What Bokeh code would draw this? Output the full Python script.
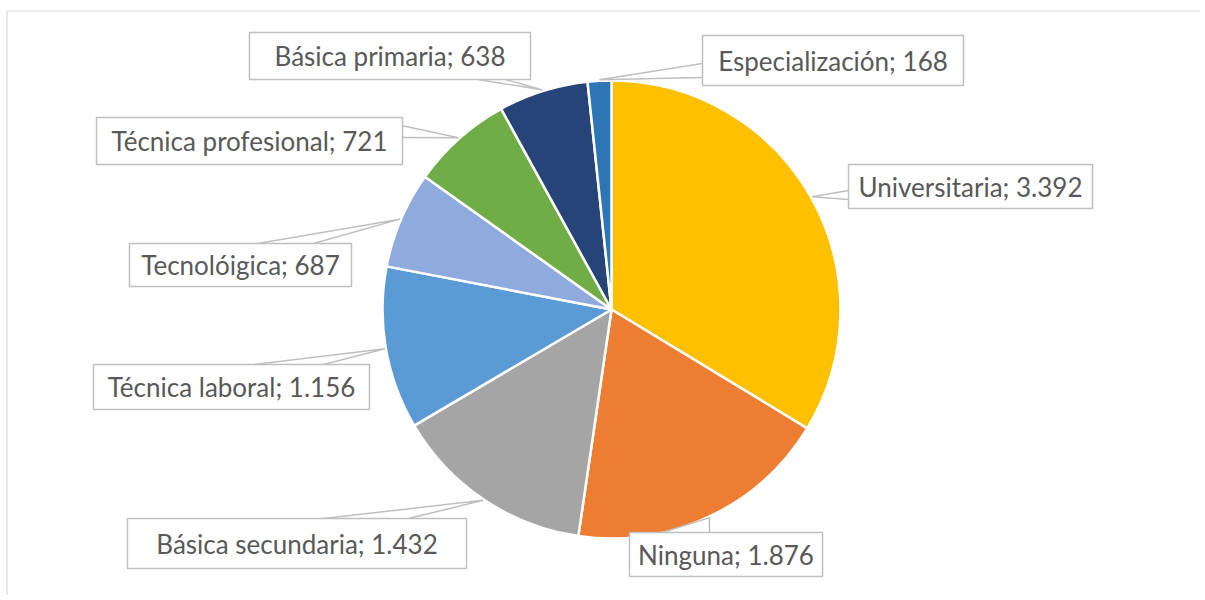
import math
from bokeh.plotting import figure
from bokeh.models import Range1d, ColumnDataSource
from bokeh.core.properties import value
from bokeh.embed import file_html
from bokeh.resources import INLINE

# ---- data ----
categories = ["Universitaria", "Ninguna", "Básica secundaria", "Técnica laboral",
              "Tecnolóigica", "Técnica profesional", "Básica primaria", "Especialización"]
values = [3392, 1876, 1432, 1156, 687, 721, 638, 168]
colors = ["#FFC000", "#ED7D31", "#A5A5A5", "#5B9BD5",
          "#8FAADC", "#70AD47", "#264478", "#2E75B6"]

# ---- layout (screen pixel positions) ----
W, H = 1200, 595
PIE_CX, PIE_CY, PIE_R = 611, 309, 229
boxes = [  # x0, y0, x1, y1 in page pixels
    (848, 164, 1092, 208),
    (629, 532, 822, 576),
    (127, 518, 466, 568),
    (93, 364, 369, 409),
    (129, 243, 351, 286),
    (96, 117, 402, 164),
    (249, 32, 530, 79),
    (702, 35, 963, 85),
]
pointer_bases = [
    ((848, 190), (848, 199)),
    ((662, 532), (709, 532)),
    ((323, 518), (408, 518)),
    ((253, 364), (323, 364)),
    ((257, 243), (313, 243)),
    ((401, 125), (401, 137)),
    ((478, 79), (505, 79)),
    ((702, 63), (702, 77)),
]

OFF = 0  # page offset of the figure


def sx(x):
    return x - OFF


def sy(y):
    return (H + OFF) - y


p = figure(width=W, height=H, output_backend="svg", toolbar_location=None,
           x_range=Range1d(0, W), y_range=Range1d(0, H), min_border=0)
p.axis.visible = False
p.grid.visible = False
p.outline_line_color = None
p.background_fill_color = "white"
p.border_fill_color = "white"

# chart frame
p.segment(x0=[sx(6.5), sx(6.5)], y0=[sy(10.5), sy(10.5)],
          x1=[sx(1205), sx(6.5)], y1=[sy(10.5), sy(600)],
          line_color="#D9D9D9", line_width=1.2)

total = float(sum(values))
starts, ends, mids = [], [], []
cum = 0.0
for v in values:
    a0 = math.pi / 2 - cum / total * 2 * math.pi
    cum += v
    a1 = math.pi / 2 - cum / total * 2 * math.pi
    starts.append(a0)
    ends.append(a1)
    mids.append((a0 + a1) / 2)

src = ColumnDataSource(dict(start=starts, end=ends, color=colors, cat=categories))
p.wedge(x=sx(PIE_CX), y=sy(PIE_CY), radius=PIE_R, start_angle="start", end_angle="end",
        direction="clock", fill_color="color", line_color="white", line_width=2.5,
        source=src)

# leader pointers
xs, ys = [], []
for m, (b1, b2) in zip(mids, pointer_bases):
    ax = sx(PIE_CX) + (PIE_R + 1) * math.cos(m)
    ay = sy(PIE_CY) + (PIE_R + 1) * math.sin(m)
    xs.append([sx(b1[0]), ax, sx(b2[0])])
    ys.append([sy(b1[1]), ay, sy(b2[1])])
p.multi_line(xs=xs, ys=ys, line_color="#BFBFBF", line_width=1.5)

# label boxes
p.quad(left=[sx(b[0]) for b in boxes], right=[sx(b[2]) for b in boxes],
       top=[sy(b[1]) for b in boxes], bottom=[sy(b[3]) for b in boxes],
       fill_color="white", line_color="#BFBFBF", line_width=1.5)

labels = [f"{c}; {v:,}".replace(",", ".") for c, v in zip(categories, values)]
p.text(x=[sx((b[0] + b[2]) / 2) for b in boxes], y=[sy((b[1] + b[3]) / 2) for b in boxes],
       text=labels, text_align="center", text_baseline="middle",
       text_font=value("Lato"), text_font_size="26px", text_color="#595959")

open("out.html", "w").write(file_html(p, INLINE))
